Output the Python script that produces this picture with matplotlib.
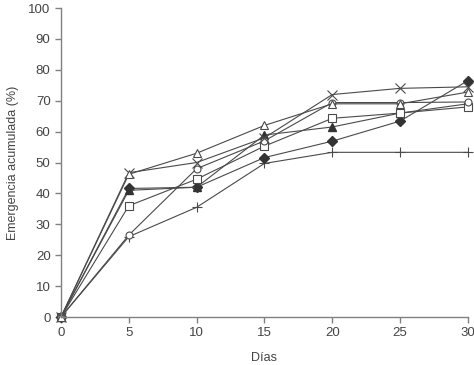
import matplotlib
matplotlib.use("Agg")
import matplotlib.pyplot as plt

# Datos
dias = [0, 5, 10, 15, 20, 25, 30]

tri_abierto = [0, 46.2, 53.0, 62.0, 69.0, 69.0, 72.8]
cruz_x = [0, 46.7, 50.0, 58.0, 72.0, 74.0, 74.5]
circulo = [0, 26.5, 48.0, 57.0, 69.4, 69.4, 69.6]
cuadrado = [0, 36.0, 44.6, 55.3, 64.3, 66.0, 68.0]
tri_lleno = [0, 41.0, 42.0, 58.9, 61.5, 66.0, 69.0]
rombo = [0, 41.6, 42.0, 51.6, 56.9, 63.4, 76.5]
cruz_mas = [0, 26.0, 35.5, 49.7, 53.3, 53.3, 53.3]

yticks = list(range(0, 101, 10))
xticks = dias

plt.rcParams['font.family'] = ['Liberation Sans', 'DejaVu Sans']

fig = plt.figure(figsize=(4.74, 3.65), dpi=100)
ax = fig.add_axes([0.1287, 0.1315, 0.8583, 0.8465])

LINEA = '#4a4a4a'
RELLENO = '#333333'
comun = dict(color=LINEA, linewidth=0.8, clip_on=False)

ax.plot(dias, cruz_mas, marker='+', markersize=7, markeredgecolor=LINEA, markeredgewidth=0.8, **comun)
ax.plot(dias, rombo, marker='D', markersize=5, markerfacecolor=RELLENO, markeredgecolor=RELLENO, **comun)
ax.plot(dias, tri_lleno, marker='^', markersize=6, markerfacecolor=RELLENO, markeredgecolor=RELLENO, **comun)
ax.plot(dias, cuadrado, marker='s', markersize=5.5, markerfacecolor='white', markeredgecolor=LINEA, markeredgewidth=0.8, **comun)
ax.plot(dias, circulo, marker='o', markersize=5, markerfacecolor='white', markeredgecolor=LINEA, markeredgewidth=0.8, **comun)
ax.plot(dias, cruz_x, marker='x', markersize=7, markeredgecolor=LINEA, markeredgewidth=0.8, **comun)
ax.plot(dias, tri_abierto, marker='^', markersize=6, markerfacecolor='white', markeredgecolor=LINEA, markeredgewidth=0.8, **comun)

ax.set_xlim(0, 30)
ax.set_ylim(0, 100)
ax.set_xticks(xticks)
ax.set_yticks(yticks)

for lado in ['top', 'right']:
    ax.spines[lado].set_visible(False)
for lado in ['left', 'bottom']:
    ax.spines[lado].set_color('#808080')
    ax.spines[lado].set_linewidth(1.0)

ax.tick_params(axis='both', colors='#808080', labelcolor='#444444', labelsize=9.5,
               length=4, width=1.0, direction='out')

ax.set_xlabel('Días', fontsize=9, color='#444444', labelpad=9)
ax.set_ylabel('Emergencia acumulada (%)', fontsize=9, color='#444444', labelpad=7)

fig.savefig('out.png', dpi=100)
